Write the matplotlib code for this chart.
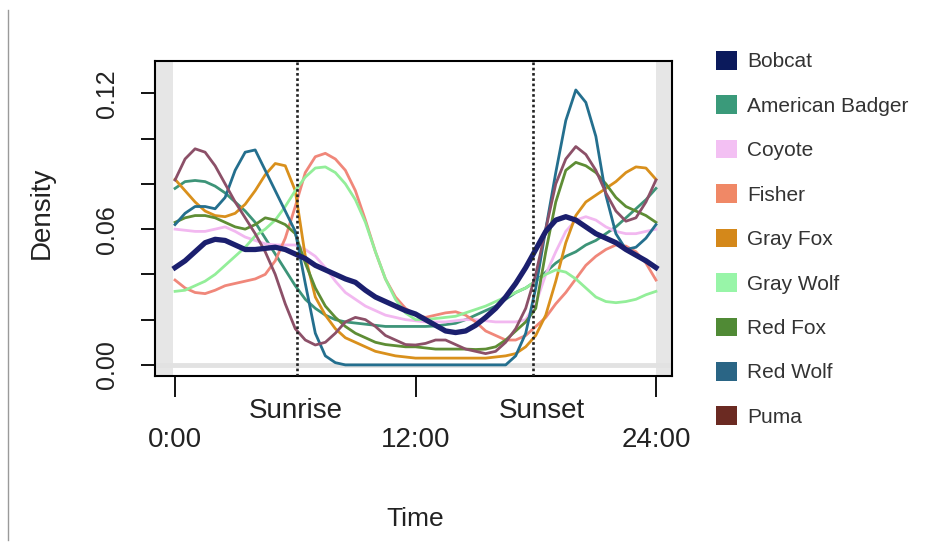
import numpy as np
import matplotlib
matplotlib.use("Agg")
import matplotlib.pyplot as plt
from matplotlib.patches import Patch
from matplotlib.lines import Line2D
import matplotlib.transforms as mtransforms

plt.rcParams["font.family"] = ["Liberation Sans", "DejaVu Sans"]

# time of day (hours), read every half hour
hours = np.arange(0, 24.5, 0.5)

species = ["Bobcat", "American Badger", "Coyote", "Fisher", "Gray Fox",
           "Gray Wolf", "Red Fox", "Red Wolf", "Puma"]

bobcat = [0.043, 0.046, 0.050, 0.054, 0.0555, 0.055, 0.053, 0.051,
          0.051, 0.0515, 0.052, 0.051, 0.049, 0.047, 0.044, 0.042,
          0.040, 0.038, 0.0365, 0.033, 0.030, 0.028, 0.026, 0.024,
          0.0225, 0.020, 0.0175, 0.015, 0.0143, 0.015, 0.0175, 0.021,
          0.025, 0.030, 0.036, 0.043, 0.051, 0.059, 0.064, 0.0655,
          0.064, 0.061, 0.058, 0.056, 0.054, 0.051, 0.0485, 0.046,
          0.043]
badger = [0.078, 0.081, 0.0815, 0.081, 0.079, 0.076, 0.072, 0.068,
          0.063, 0.056, 0.049, 0.042, 0.035, 0.029, 0.025, 0.022,
          0.020, 0.019, 0.0185, 0.018, 0.0175, 0.017, 0.017, 0.017,
          0.017, 0.017, 0.0172, 0.0178, 0.0184, 0.020, 0.022, 0.024,
          0.026, 0.029, 0.032, 0.034, 0.037, 0.041, 0.045, 0.048,
          0.050, 0.053, 0.055, 0.058, 0.061, 0.065, 0.069, 0.073,
          0.078]
coyote = [0.060, 0.0595, 0.059, 0.059, 0.060, 0.061, 0.059, 0.0565,
          0.055, 0.0535, 0.053, 0.053, 0.053, 0.051, 0.048, 0.043,
          0.037, 0.032, 0.029, 0.026, 0.024, 0.022, 0.021, 0.020,
          0.0195, 0.019, 0.019, 0.019, 0.0195, 0.020, 0.020, 0.0195,
          0.019, 0.019, 0.019, 0.020, 0.027, 0.040, 0.050, 0.059,
          0.064, 0.0655, 0.064, 0.061, 0.059, 0.058, 0.058, 0.059,
          0.060]
fisher = [0.0375, 0.034, 0.032, 0.0315, 0.033, 0.035, 0.036, 0.037,
          0.038, 0.040, 0.046, 0.056, 0.070, 0.085, 0.092, 0.0935,
          0.091, 0.086, 0.077, 0.064, 0.050, 0.038, 0.030, 0.025,
          0.022, 0.021, 0.022, 0.023, 0.0235, 0.022, 0.019, 0.015,
          0.013, 0.011, 0.011, 0.013, 0.017, 0.021, 0.027, 0.032,
          0.038, 0.044, 0.048, 0.051, 0.053, 0.0525, 0.050, 0.045,
          0.0375]
gray_fox = [0.082, 0.077, 0.072, 0.068, 0.066, 0.0655, 0.067, 0.071,
            0.077, 0.084, 0.089, 0.088, 0.077, 0.048, 0.030, 0.022,
            0.016, 0.012, 0.010, 0.008, 0.006, 0.005, 0.004, 0.0035,
            0.003, 0.003, 0.003, 0.003, 0.003, 0.003, 0.003, 0.003,
            0.0035, 0.004, 0.005, 0.008, 0.013, 0.022, 0.037, 0.054,
            0.066, 0.072, 0.075, 0.078, 0.081, 0.085, 0.0875, 0.087,
            0.082]
gray_wolf = [0.0325, 0.033, 0.035, 0.037, 0.040, 0.044, 0.048, 0.052,
             0.057, 0.060, 0.064, 0.070, 0.077, 0.083, 0.087, 0.0875,
             0.085, 0.080, 0.073, 0.063, 0.050, 0.038, 0.029, 0.023,
             0.020, 0.020, 0.0205, 0.021, 0.0215, 0.023, 0.0245, 0.026,
             0.028, 0.030, 0.032, 0.034, 0.037, 0.040, 0.042, 0.041,
             0.038, 0.034, 0.030, 0.028, 0.0275, 0.028, 0.029, 0.031,
             0.0325]
red_fox = [0.063, 0.065, 0.066, 0.066, 0.065, 0.063, 0.061, 0.060,
           0.062, 0.065, 0.064, 0.062, 0.058, 0.045, 0.034, 0.026,
           0.021, 0.017, 0.014, 0.012, 0.010, 0.009, 0.0085, 0.008,
           0.008, 0.0075, 0.007, 0.007, 0.007, 0.007, 0.0068, 0.007,
           0.008, 0.011, 0.015, 0.019, 0.025, 0.050, 0.072, 0.086,
           0.0895, 0.088, 0.085, 0.080, 0.074, 0.070, 0.068, 0.066,
           0.063]
red_wolf = [0.062, 0.067, 0.070, 0.070, 0.069, 0.074, 0.086, 0.094,
            0.095, 0.086, 0.077, 0.068, 0.059, 0.036, 0.014, 0.004,
            0.001, 0.0, 0.0, 0.0, 0.0, 0.0, 0.0, 0.0,
            0.0, 0.0, 0.0, 0.0, 0.0, 0.0, 0.0, 0.0,
            0.0, 0.0, 0.004, 0.014, 0.034, 0.060, 0.085, 0.108,
            0.1215, 0.116, 0.101, 0.075, 0.058, 0.051, 0.052, 0.056,
            0.062]
puma = [0.0817, 0.091, 0.0955, 0.094, 0.088, 0.080, 0.072, 0.065,
        0.058, 0.050, 0.040, 0.027, 0.016, 0.011, 0.0088, 0.010,
        0.014, 0.019, 0.021, 0.020, 0.017, 0.013, 0.011, 0.009,
        0.0088, 0.0095, 0.011, 0.011, 0.009, 0.007, 0.006, 0.005,
        0.006, 0.010, 0.016, 0.025, 0.040, 0.060, 0.080, 0.091,
        0.0965, 0.093, 0.086, 0.076, 0.068, 0.0635, 0.065, 0.072,
        0.0817]

sunrise = 6.1
sunset = 17.85

line_colors = ["#1b1f6e", "#3d9478", "#f2b8f0", "#f0877a", "#d9901c",
               "#93ee99", "#5e8d35", "#246f8e", "#8c5068"]
legend_colors = ["#0b1a5c", "#3a9a7a", "#f3c0f3", "#f08866", "#d4881a",
                 "#98f5a8", "#508a35", "#2a6585", "#6b2a22"]

series = [bobcat, badger, coyote, fisher, gray_fox, gray_wolf,
          red_fox, red_wolf, puma]

fig = plt.figure(figsize=(9.26, 5.47), dpi=100)
ax = fig.add_axes([155 / 926, 1 - 376 / 547, 517 / 926, 315 / 547])
x_lo, x_hi = -1.0, 24.8
ax.set_xlim(x_lo, x_hi)
ax.set_ylim(-0.0049, 0.1343)

# shaded zones outside the 24h day, and zero line
ax.axvspan(x_lo, -0.1, color="#e6e6e6", lw=0, zorder=0)
ax.axvspan(24.0, x_hi, color="#e6e6e6", lw=0, zorder=0)
ax.axhline(0, color="#e2e2e2", lw=3.5, zorder=0)

# other species first, bobcat on top
for name, vals, col in list(zip(species, series, line_colors))[1:]:
    ax.plot(hours, vals, color=col, lw=2.0, zorder=2)
ax.plot(hours, bobcat, color=line_colors[0], lw=3.8, zorder=3)

for t in (sunrise, sunset):
    ax.axvline(t, color="#222222", ls=(0, (1, 1)), lw=1.9, zorder=4)

for sp in ax.spines.values():
    sp.set_linewidth(1.5)

ax.set_xticks([0, 12, 24])
ax.set_xticklabels(["0:00", "12:00", "24:00"], fontsize=20, color="#222222")
ax.tick_params(axis="x", length=15, width=1.3, pad=22)

ax.set_yticks([0, 0.02, 0.04, 0.06, 0.08, 0.10, 0.12])
ax.set_yticklabels(["0.00", "", "", "0.06", "", "", "0.12"], fontsize=18,
                   color="#222222")
ax.tick_params(axis="y", length=10, width=1.3, pad=16)
plt.setp(ax.get_yticklabels(), rotation=90, va="center")

trans = mtransforms.blended_transform_factory(ax.transData, ax.transAxes)
ax.text(6.0, -0.111, "Sunrise", transform=trans, ha="center", va="center",
        fontsize=20, color="#222222")
ax.text(18.3, -0.111, "Sunset", transform=trans, ha="center", va="center",
        fontsize=20, color="#222222")

fig.text(42 / 926, 1 - 213 / 547, "Density", rotation=90, ha="center",
         va="center", fontsize=20, color="#222222")
fig.text(415 / 926, 1 - 519 / 547, "Time", ha="center", va="center",
         fontsize=19, color="#222222")

fig.add_artist(Line2D([7.5 / 926, 7.5 / 926], [1 - 10 / 547, 1 - 540 / 547],
                      transform=fig.transFigure, color="#9a9a9a", lw=1))

handles = [Patch(facecolor=c, edgecolor="none") for c in legend_colors]
leg = fig.legend(handles, species, loc="upper left",
                 bbox_to_anchor=(716 / 926, 1 - 51 / 547), frameon=False,
                 fontsize=15, handlelength=1.0, handleheight=1.0,
                 handletextpad=0.5, labelspacing=1.15, borderpad=0,
                 borderaxespad=0)
for txt in leg.get_texts():
    txt.set_color("#333333")

fig.savefig("out.png", dpi=100)
